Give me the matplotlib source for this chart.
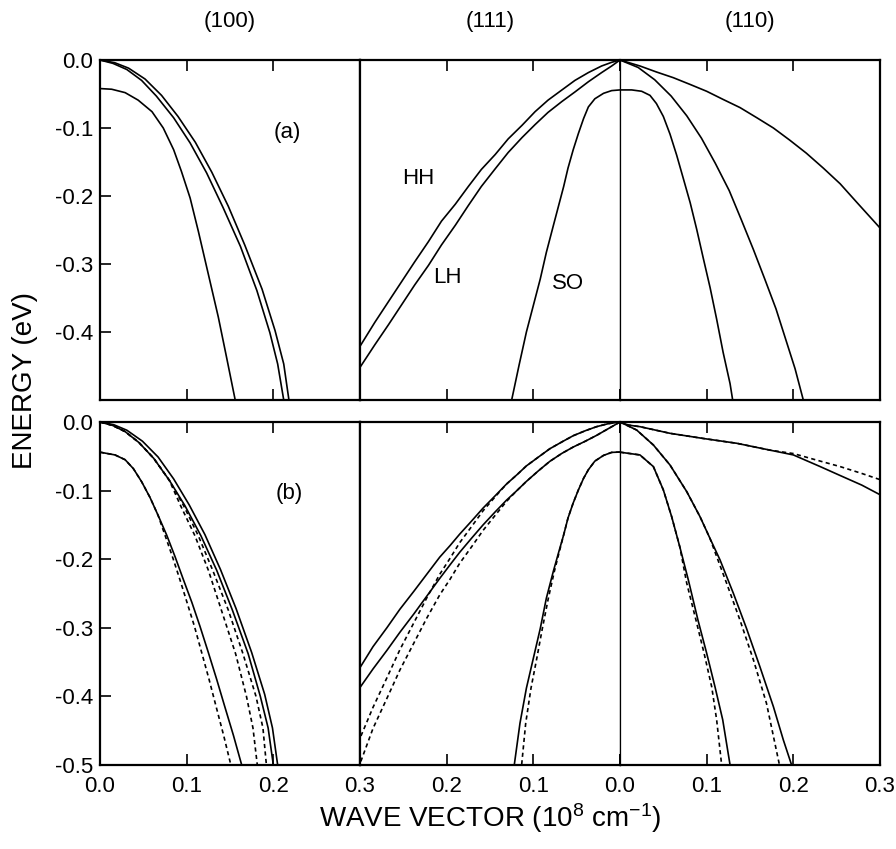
import matplotlib
matplotlib.use("Agg")
import matplotlib.pyplot as plt

plt.rcParams['font.family'] = ['Liberation Sans', 'DejaVu Sans']
plt.rcParams['mathtext.default'] = 'regular'
plt.rcParams['axes.unicode_minus'] = False

# ---- panel (a) : (100) ----
a100_hh_k = [0, 0.017, 0.033, 0.052, 0.071, 0.090, 0.110, 0.129, 0.148, 0.167, 0.187, 0.202, 0.212, 0.218]
a100_hh_e = [0, -0.004, -0.012, -0.028, -0.052, -0.083, -0.121, -0.165, -0.215, -0.272, -0.337, -0.398, -0.447, -0.500]
a100_lh_k = [0, 0.015, 0.031, 0.048, 0.065, 0.085, 0.104, 0.123, 0.142, 0.162, 0.181, 0.196, 0.205, 0.212]
a100_lh_e = [0, -0.005, -0.014, -0.030, -0.053, -0.085, -0.122, -0.166, -0.217, -0.274, -0.339, -0.401, -0.447, -0.500]
a100_so_k = [0, 0.0135, 0.029, 0.044, 0.060, 0.073, 0.085, 0.094, 0.104, 0.1135, 0.125, 0.1365, 0.146, 0.156]
a100_so_e = [-0.042, -0.043, -0.048, -0.059, -0.076, -0.100, -0.132, -0.164, -0.203, -0.252, -0.315, -0.378, -0.437, -0.500]

# ---- panel (a) : (111) ----
a111_k = [0, 0.0096, 0.0212, 0.0365, 0.052, 0.067, 0.083, 0.098, 0.113, 0.129, 0.144,
          0.160, 0.175, 0.190, 0.206, 0.221, 0.237, 0.252, 0.267, 0.283, 0.300]
a111_hh_e = [0, -0.0034, -0.0088, -0.0185, -0.030, -0.044, -0.059, -0.076, -0.096, -0.116, -0.139,
             -0.161, -0.186, -0.212, -0.237, -0.267, -0.297, -0.326, -0.355, -0.386, -0.421]
a111_lh_e = [0, -0.0088, -0.0185, -0.032, -0.047, -0.061, -0.077, -0.095, -0.114, -0.136, -0.160,
             -0.186, -0.214, -0.243, -0.272, -0.302, -0.331, -0.360, -0.389, -0.419, -0.452]
a111_so_k = [0, 0.0096, 0.019, 0.029, 0.0365, 0.042, 0.048, 0.054, 0.060, 0.065, 0.071, 0.077,
             0.085, 0.092, 0.100, 0.108, 0.1165, 0.125]
a111_so_e = [-0.044, -0.045, -0.049, -0.057, -0.069, -0.086, -0.108, -0.132, -0.159, -0.186, -0.215,
             -0.244, -0.283, -0.322, -0.361, -0.400, -0.449, -0.500]

# ---- panel (a) : (110) ----
a110_hh_k = [0, 0.023, 0.042, 0.0615, 0.081, 0.100, 0.119, 0.1385, 0.158, 0.177, 0.196, 0.215, 0.2346, 0.254, 0.273, 0.300]
a110_hh_e = [0, -0.0088, -0.0176, -0.026, -0.036, -0.046, -0.058, -0.070, -0.085, -0.100, -0.118, -0.137, -0.159, -0.182, -0.209, -0.247]
a110_lh_k = [0, 0.021, 0.040, 0.059, 0.077, 0.094, 0.110, 0.126, 0.140, 0.154, 0.167, 0.180, 0.191, 0.202, 0.2115]
a110_lh_e = [0, -0.011, -0.029, -0.053, -0.082, -0.115, -0.152, -0.192, -0.235, -0.279, -0.322, -0.366, -0.410, -0.454, -0.500]
a110_so_k = [0, 0.0135, 0.025, 0.0346, 0.042, 0.050, 0.0577, 0.0654, 0.073, 0.081, 0.0885, 0.096, 0.104, 0.1115, 0.119, 0.127, 0.130]
a110_so_e = [-0.044, -0.044, -0.046, -0.052, -0.064, -0.083, -0.109, -0.140, -0.174, -0.210, -0.249, -0.291, -0.335, -0.381, -0.430, -0.476, -0.500]

# ---- panel (b) : (100) ----
b100_hh_k = [0, 0.016, 0.031, 0.049, 0.067, 0.085, 0.103, 0.121, 0.139, 0.157, 0.175, 0.190, 0.199, 0.205]
b100_hh_e = [0, -0.004, -0.012, -0.028, -0.051, -0.083, -0.121, -0.164, -0.215, -0.272, -0.336, -0.397, -0.446, -0.500]
b100_lh_k = [0, 0.0146, 0.029, 0.045, 0.062, 0.080, 0.098, 0.1165, 0.1346, 0.1527, 0.171, 0.185, 0.194, 0.200]
b100_lh_e = [0, -0.005, -0.014, -0.030, -0.053, -0.085, -0.122, -0.166, -0.216, -0.274, -0.338, -0.400, -0.446, -0.500]
b100_hh_dash_k = [0, 0.0146, 0.029, 0.045, 0.062, 0.080, 0.0965, 0.1135, 0.130, 0.148, 0.165, 0.180, 0.188, 0.192]
b100_lh_dash_k = [0, 0.0146, 0.029, 0.045, 0.062, 0.080, 0.093, 0.1096, 0.125, 0.140, 0.1565, 0.169, 0.1765, 0.1815]
b100_dash_e = [0, -0.005, -0.014, -0.030, -0.053, -0.085, -0.122, -0.166, -0.216, -0.274, -0.338, -0.400, -0.446, -0.500]
b100_so_k = [0, 0.0173, 0.029, 0.0385, 0.048, 0.0577, 0.067, 0.077, 0.0865, 0.096, 0.106, 0.1154, 0.125, 0.1346, 0.144, 0.154, 0.1635]
b100_so_dash_k = [0, 0.0173, 0.029, 0.0385, 0.048, 0.0577, 0.067, 0.075, 0.0835, 0.092, 0.1004, 0.109, 0.1173, 0.1258, 0.134, 0.1427, 0.151]
b100_so_e = [-0.044, -0.048, -0.055, -0.068, -0.087, -0.110, -0.136, -0.165, -0.196, -0.229, -0.263, -0.298, -0.336, -0.375, -0.415, -0.457, -0.500]

# ---- panel (b) : (111) ----
b111_k = [0, 0.0135, 0.027, 0.040, 0.054, 0.067, 0.081, 0.094, 0.108, 0.119, 0.131, 0.144,
          0.158, 0.171, 0.185, 0.196, 0.208, 0.223, 0.238, 0.254, 0.269, 0.285, 0.300]
b111_hh_e = [0, -0.0024, -0.0068, -0.0127, -0.020, -0.029, -0.039, -0.051, -0.064, -0.077, -0.0905, -0.1075,
             -0.1255, -0.144, -0.1635, -0.180, -0.197, -0.222, -0.247, -0.273, -0.300, -0.3275, -0.358]
b111_lh_e = [0, -0.0097, -0.0195, -0.028, -0.0365, -0.0457, -0.0574, -0.071, -0.0866, -0.100, -0.114, -0.131,
             -0.150, -0.169, -0.190, -0.208, -0.228, -0.254, -0.280, -0.3066, -0.333, -0.360, -0.387]
b111_hh_dash_e = [0, -0.0024, -0.0068, -0.0127, -0.020, -0.029, -0.039, -0.051, -0.064, -0.077, -0.0905, -0.109,
                  -0.1294, -0.152, -0.176, -0.1985, -0.222, -0.2565, -0.293, -0.332, -0.373, -0.416, -0.461]
b111_lh_dash_e = [0, -0.0097, -0.0195, -0.028, -0.0365, -0.0457, -0.0574, -0.071, -0.0866, -0.100, -0.1158, -0.136,
                  -0.158, -0.1815, -0.206, -0.229, -0.252, -0.286, -0.3226, -0.3616, -0.403, -0.4467, -0.498]
b111_so_k = [0, 0.0096, 0.019, 0.029, 0.0365, 0.042, 0.048, 0.054, 0.060, 0.065, 0.071, 0.077,
             0.085, 0.092, 0.100, 0.108, 0.1154, 0.122]
b111_so_dash_k = [0, 0.0096, 0.019, 0.029, 0.0365, 0.042, 0.048, 0.054, 0.060, 0.065, 0.0704, 0.0758,
                  0.0827, 0.0896, 0.096, 0.1027, 0.1088, 0.1135]
b111_so_e = [-0.0438, -0.0443, -0.0487, -0.057, -0.0696, -0.082, -0.099, -0.118, -0.140, -0.1645, -0.191, -0.218,
             -0.257, -0.301, -0.3445, -0.388, -0.439, -0.500]

# ---- panel (b) : (110) ----
b110_hh_k = [0, 0.0096, 0.023, 0.0577, 0.096, 0.1346, 0.173, 0.200, 0.231, 0.254, 0.279, 0.300]
b110_hh_e = [0, -0.0045, -0.0068, -0.0165, -0.024, -0.031, -0.041, -0.048, -0.065, -0.078, -0.092, -0.106]
b110_hh_dash_e = [0, -0.0045, -0.0068, -0.0165, -0.024, -0.031, -0.041, -0.046, -0.057, -0.065, -0.075, -0.084]
b110_lh_k = [0, 0.0192, 0.0385, 0.0577, 0.077, 0.0923, 0.1038, 0.1154, 0.1308, 0.146, 0.1615, 0.177, 0.1885, 0.198]
b110_lh_e = [0, -0.0117, -0.0335, -0.0627, -0.1015, -0.138, -0.1696, -0.201, -0.2497, -0.301, -0.357, -0.415, -0.4636, -0.500]
b110_lh_dash_k = [0, 0.0192, 0.0385, 0.0577, 0.077, 0.0923, 0.1038, 0.1115, 0.123, 0.1385, 0.154, 0.169, 0.184]
b110_lh_dash_e = [0, -0.0117, -0.0335, -0.0627, -0.1015, -0.138, -0.1696, -0.196, -0.235, -0.289, -0.347, -0.410, -0.500]
b110_so_k = [0, 0.023, 0.0385, 0.050, 0.0596, 0.069, 0.0788, 0.090, 0.100, 0.1096, 0.1185, 0.127]
b110_so_e = [-0.044, -0.048, -0.065, -0.099, -0.138, -0.182, -0.230, -0.289, -0.337, -0.386, -0.434, -0.500]
b110_so_dash_k = [0, 0.023, 0.0385, 0.050, 0.0596, 0.069, 0.077, 0.0877, 0.097, 0.1058, 0.1115, 0.1173]
b110_so_dash_e = [-0.044, -0.048, -0.065, -0.099, -0.138, -0.182, -0.235, -0.289, -0.337, -0.386, -0.434, -0.500]

col_titles = ["(100)", "(111)", "(110)"]
yticks_top = [0.0, -0.1, -0.2, -0.3, -0.4]
yticks_bot = [0.0, -0.1, -0.2, -0.3, -0.4, -0.5]

W, H = 896, 849
fig = plt.figure(figsize=(W / 100, H / 100), dpi=100)

col_px = [(100, 360), (360, 620), (620, 880)]
row_px = [(60, 400), (422, 765)]

solid = dict(color="black", lw=1.2, solid_capstyle="butt", solid_joinstyle="round")
dash = dict(color="black", lw=1.2, ls=(0, (2.5, 2.0)))

axes = []
for r, (y0, y1) in enumerate(row_px):
    row = []
    for c, (x0, x1) in enumerate(col_px):
        ax = fig.add_axes([x0 / W, 1 - y1 / H, (x1 - x0) / W, (y1 - y0) / H])
        ax.set_ylim(-0.5, 0.0)
        if c == 1:
            ax.set_xlim(0.3, 0.0)
        else:
            ax.set_xlim(0.0, 0.3)
        for s in ax.spines.values():
            s.set_linewidth(1.6)
        ax.tick_params(axis="x", which="both", direction="in", top=True, bottom=True,
                       length=8, width=1.2, labelsize=16, pad=8)
        ax.tick_params(axis="y", direction="in", length=8, width=1.2, labelsize=16, pad=5)
        ax.set_xticks([0.0, 0.1, 0.2, 0.3])
        if c == 0:
            ticks = yticks_top if r == 0 else yticks_bot
            ax.set_yticks(ticks)
            ax.set_yticklabels(["%.1f" % v for v in ticks])
        else:
            ax.set_yticks([])
        if r == 0:
            ax.set_xticklabels([])
        elif c == 1:
            ax.set_xticklabels(["", "0.1", "0.2", ""])
        else:
            ax.set_xticklabels(["0.0", "0.1", "0.2", "0.3"])
        row.append(ax)
    axes.append(row)

# thin line at Gamma between (111) and (110)
for r in range(2):
    axes[r][1].spines["right"].set_linewidth(0.9)
    axes[r][2].spines["left"].set_linewidth(0.9)

# panel (a)
ax = axes[0][0]
ax.plot(a100_hh_k, a100_hh_e, **solid)
ax.plot(a100_lh_k, a100_lh_e, **solid)
ax.plot(a100_so_k, a100_so_e, **solid)
ax.text(0.216, -0.107, "(a)", fontsize=16, ha="center", va="center")

ax = axes[0][1]
ax.plot(a111_k, a111_hh_e, **solid)
ax.plot(a111_k, a111_lh_e, **solid)
ax.plot(a111_so_k, a111_so_e, **solid)
ax.text(0.233, -0.174, "HH", fontsize=16, ha="center", va="center")
ax.text(0.199, -0.320, "LH", fontsize=16, ha="center", va="center")
ax.text(0.060, -0.328, "SO", fontsize=16, ha="center", va="center")

ax = axes[0][2]
ax.plot(a110_hh_k, a110_hh_e, **solid)
ax.plot(a110_lh_k, a110_lh_e, **solid)
ax.plot(a110_so_k, a110_so_e, **solid)

# panel (b)
ax = axes[1][0]
ax.plot(b100_hh_k, b100_hh_e, **solid)
ax.plot(b100_lh_k, b100_lh_e, **solid)
ax.plot(b100_so_k, b100_so_e, **solid)
ax.plot(b100_hh_dash_k, b100_dash_e, **dash)
ax.plot(b100_lh_dash_k, b100_dash_e, **dash)
ax.plot(b100_so_dash_k, b100_so_e, **dash)
ax.text(0.218, -0.104, "(b)", fontsize=16, ha="center", va="center")

ax = axes[1][1]
ax.plot(b111_k, b111_hh_e, **solid)
ax.plot(b111_k, b111_lh_e, **solid)
ax.plot(b111_so_k, b111_so_e, **solid)
ax.plot(b111_k, b111_hh_dash_e, **dash)
ax.plot(b111_k, b111_lh_dash_e, **dash)
ax.plot(b111_so_dash_k, b111_so_e, **dash)

ax = axes[1][2]
ax.plot(b110_hh_k, b110_hh_e, **solid)
ax.plot(b110_lh_k, b110_lh_e, **solid)
ax.plot(b110_so_k, b110_so_e, **solid)
ax.plot(b110_hh_k, b110_hh_dash_e, **dash)
ax.plot(b110_lh_dash_k, b110_lh_dash_e, **dash)
ax.plot(b110_so_dash_k, b110_so_dash_e, **dash)

# column titles and axis labels
for (x0, x1), title in zip(col_px, col_titles):
    fig.text((x0 + x1) / 2 / W, 1 - 21 / H, title, fontsize=16, ha="center", va="center")

fig.text(25 / W, 1 - 380 / H, "ENERGY (eV)", fontsize=20, rotation=90, ha="center", va="center")
fig.text(490 / W, 1 - 818 / H, "WAVE VECTOR (10$^{8}$ cm$^{-1}$)", fontsize=20, ha="center", va="center")

fig.savefig("out.png", dpi=100)
